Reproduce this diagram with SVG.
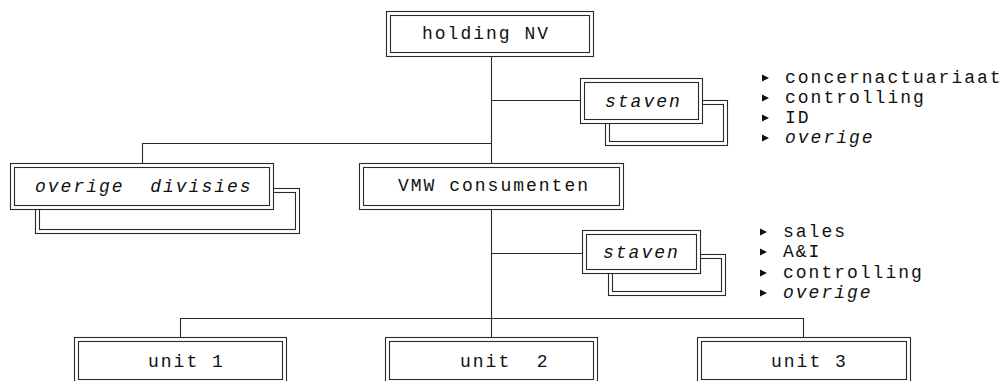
<svg xmlns="http://www.w3.org/2000/svg" width="1006" height="381" viewBox="0 0 1006 381">
  <style>
    .o { fill: #fff; stroke: #2a2a2a; stroke-width: 1.1; }
    .i { fill: none; stroke: #2a2a2a; stroke-width: 1.1; }
    .ln { fill: none; stroke: #2a2a2a; stroke-width: 1.1; }
    text { font-family: "Liberation Mono", "Courier New", monospace; font-size: 18px; letter-spacing: 2px; fill: #111; white-space: pre; }
    .it { font-style: italic; }
  </style>
  <defs>
    <path id="bullet" d="M0,-3.5 L7,0 L0,3.5 Z" fill="#111"/>
  </defs>

  <!-- connectors -->
  <g id="connectors">
    <path class="ln" d="M491.5,56 V163"/>
    <path class="ln" d="M491.5,100.5 H580"/>
    <path class="ln" d="M491.5,143.5 H142.5 V163"/>
    <path class="ln" d="M491.5,210 V318.5"/>
    <path class="ln" d="M491.5,253.5 H582"/>
    <path class="ln" d="M180.5,337 V318.5 H803.5 V337"/>
    <path class="ln" d="M491.5,318.5 V337"/>
  </g>

  <g id="holding">
    <rect class="o" x="386.5" y="11.5" width="207" height="45"/>
    <rect class="i" x="390.5" y="15.5" width="199" height="37"/>
    <text x="422" y="39">holding NV</text>
  </g>

  <g id="staven-holding">
    <rect class="o" x="605.5" y="100.5" width="122" height="45"/>
    <rect class="i" x="609.5" y="104.5" width="114" height="37"/>
    <rect class="o" x="580.5" y="78.5" width="122" height="45"/>
    <rect class="i" x="584.5" y="82.5" width="114" height="37"/>
    <text class="it" x="605" y="107">staven</text>
  </g>

  <g id="staven-holding-list">
    <use href="#bullet" x="762" y="78"/>
    <text x="785" y="83">concernactuariaat</text>
    <use href="#bullet" x="762" y="98"/>
    <text x="785" y="103">controlling</text>
    <use href="#bullet" x="762" y="118"/>
    <text x="785" y="123">ID</text>
    <use href="#bullet" x="762" y="138"/>
    <text class="it" x="785" y="143">overige</text>
  </g>

  <g id="overige-divisies">
    <rect class="o" x="35.5" y="188.5" width="264" height="45"/>
    <rect class="i" x="39.5" y="192.5" width="256" height="37"/>
    <rect class="o" x="10.5" y="163.5" width="263" height="46"/>
    <rect class="i" x="14.5" y="167.5" width="255" height="38"/>
    <text class="it" x="35" y="192">overige  divisies</text>
  </g>

  <g id="vmw-consumenten">
    <rect class="o" x="359.5" y="163.5" width="264" height="46"/>
    <rect class="i" x="363.5" y="167.5" width="256" height="38"/>
    <text x="398" y="191">VMW consumenten</text>
  </g>

  <g id="staven-vmw">
    <rect class="o" x="608.5" y="254.5" width="117" height="41"/>
    <rect class="i" x="612.5" y="258.5" width="109" height="33"/>
    <rect class="o" x="582.5" y="230.5" width="118" height="43"/>
    <rect class="i" x="586.5" y="234.5" width="110" height="35"/>
    <text class="it" x="603" y="258">staven</text>
  </g>

  <g id="staven-vmw-list">
    <use href="#bullet" x="760" y="232"/>
    <text x="783" y="237">sales</text>
    <use href="#bullet" x="760" y="252"/>
    <text x="783" y="257">A&amp;I</text>
    <use href="#bullet" x="760" y="273"/>
    <text x="783" y="278">controlling</text>
    <use href="#bullet" x="760" y="293"/>
    <text class="it" x="783" y="298">overige</text>
  </g>

  <g id="unit-1">
    <rect class="o" x="74.5" y="337.5" width="212" height="46"/>
    <rect class="i" x="78.5" y="341.5" width="204" height="38"/>
    <text x="148" y="367">unit 1</text>
  </g>

  <g id="unit-2">
    <rect class="o" x="385.5" y="337.5" width="212" height="46"/>
    <rect class="i" x="389.5" y="341.5" width="204" height="38"/>
    <text x="460" y="367">unit  2</text>
  </g>

  <g id="unit-3">
    <rect class="o" x="697.5" y="337.5" width="213" height="46"/>
    <rect class="i" x="701.5" y="341.5" width="205" height="38"/>
    <text x="771" y="367">unit 3</text>
  </g>
</svg>
